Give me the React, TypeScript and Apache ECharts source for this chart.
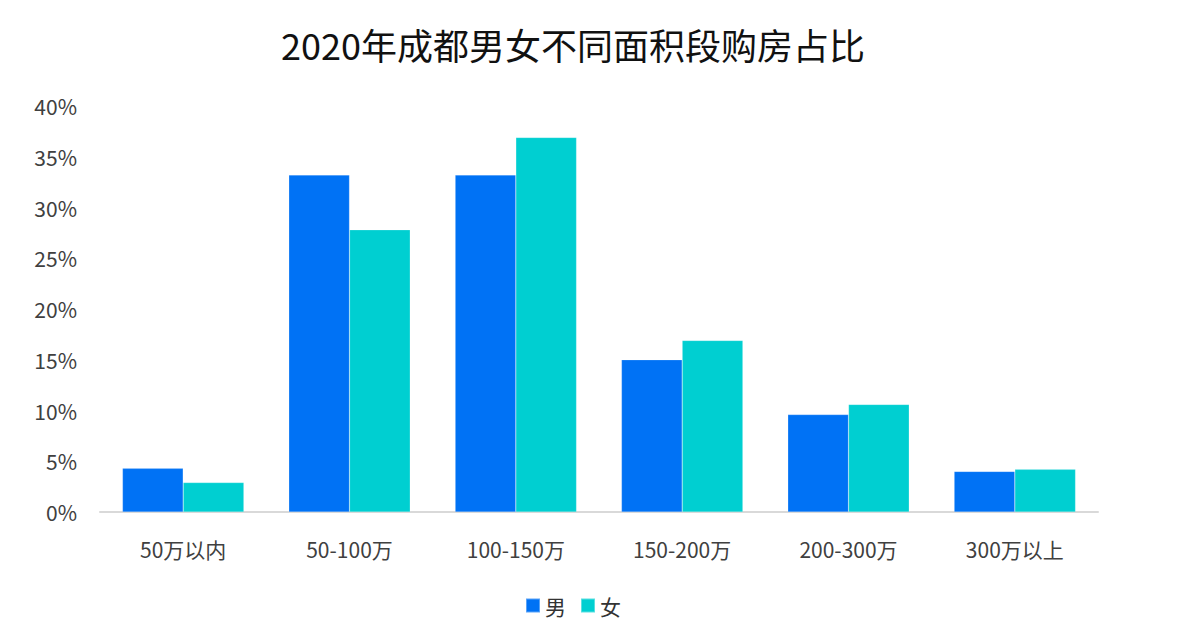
import React, { useEffect, useRef } from "react";
import * as echarts from "echarts";

const categories = ["50万以内", "50-100万", "100-150万", "150-200万", "200-300万", "300万以上"];
const maleValues = [4.3, 33.2, 33.2, 15.0, 9.6, 4.0];
const femaleValues = [2.9, 27.8, 36.9, 16.9, 10.6, 4.2];
const seriesNames = ["男", "女"];
const titleText = "2020年成都男女不同面积段购房占比";

const FONT = "'Noto Sans CJK SC', 'Noto Sans', sans-serif";

export default function App() {
  const ref = useRef<HTMLDivElement>(null);
  useEffect(() => {
    if (!ref.current) return;
    const chart = echarts.init(ref.current, undefined, { renderer: "svg" });
    chart.setOption({
      animation: false,
      backgroundColor: "#ffffff",
      title: {
        text: titleText,
        left: 276,
        top: 21,
        textStyle: { fontFamily: FONT, fontSize: 36, fontWeight: "normal", color: "#111111" },
      },
      legend: {
        bottom: 4,
        left: 520,
        itemWidth: 14,
        itemHeight: 14,
        itemGap: 14,
        icon: "rect",
        textStyle: { fontFamily: FONT, fontSize: 21, color: "#333333" },
        data: seriesNames,
      },
      grid: { left: 100, right: 102, top: 106, bottom: 113 },
      xAxis: {
        type: "category",
        data: categories,
        axisLine: { lineStyle: { color: "#d9d9d9", width: 2 } },
        axisTick: { show: false },
        axisLabel: { fontFamily: FONT, fontSize: 21, color: "#404040", margin: 26 },
      },
      yAxis: {
        type: "value",
        min: 0,
        max: 40,
        interval: 5,
        splitLine: { show: false },
        axisLine: { show: false },
        axisTick: { show: false },
        axisLabel: { fontFamily: FONT, fontSize: 21, color: "#404040", margin: 23, formatter: "{value}%" },
      },
      series: [
        {
          name: seriesNames[0],
          type: "bar",
          data: maleValues,
          barGap: "0%",
          barCategoryGap: "27%",
          itemStyle: { color: "#0072F5", borderColor: "rgba(255,255,255,0.35)", borderWidth: 0.5 },
        },
        {
          name: seriesNames[1],
          type: "bar",
          data: femaleValues,
          barGap: "0%",
          barCategoryGap: "27%",
          itemStyle: { color: "#00CFD1", borderColor: "rgba(255,255,255,0.35)", borderWidth: 0.5 },
        },
      ],
    });
    return () => chart.dispose();
  }, []);
  return <div ref={ref} style={{ width: 1200, height: 625, position: "absolute", left: 0, top: 0 }} />;
}
